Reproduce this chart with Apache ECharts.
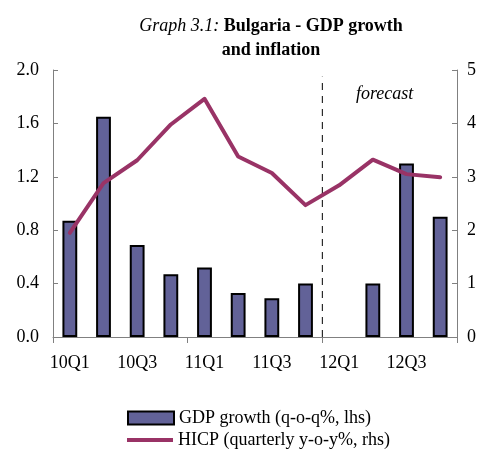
<!DOCTYPE html>
<html>
<head>
<meta charset="utf-8">
<script src="https://cdn.jsdelivr.net/npm/echarts@6/dist/echarts.min.js"></script>
<style>
  html, body { margin: 0; padding: 0; background: #fff; }
  #chart { width: 480px; height: 450px; }
</style>
</head>
<body>
<div id="chart"></div>
<script>
const quarters = ['10Q1', '10Q2', '10Q3', '10Q4', '11Q1', '11Q2', '11Q3', '11Q4', '12Q1', '12Q2', '12Q3', '12Q4']
const gdpGrowth = [0.87, 1.65, 0.69, 0.47, 0.52, 0.33, 0.29, 0.40, null, 0.40, 1.30, 0.90]
const hicp = [1.95, 2.88, 3.31, 3.98, 4.46, 3.38, 3.07, 2.47, 2.84, 3.32, 3.05, 2.99]
// forecast separator sits on the boundary between 11Q4 and 12Q1
const forecastLine = [[7.5, 0], [7.5, 1.95]]

const serif = '"Liberation Serif", "Times New Roman", serif'
const chart = echarts.init(document.getElementById('chart'))

const legendText = { fontFamily: serif, fontSize: 18, color: '#000' }

const option = {
  animation: false,
  textStyle: { fontFamily: serif },
  title: {
    left: 266,
    top: 9,
    textAlign: 'center',
    text: '{i|Graph 3.1:} {b|Bulgaria - GDP growth}\n{b|and inflation}',
    textStyle: {
      lineHeight: 24,
      rich: {
        i: { fontFamily: serif, fontStyle: 'italic', fontWeight: 'normal', fontSize: 18, color: '#000', lineHeight: 24 },
        b: { fontFamily: serif, fontWeight: 'bold', fontSize: 18, color: '#000', lineHeight: 24 }
      }
    }
  },
  legend: [{
    left: 122,
    top: 404,
    itemWidth: 46,
    itemHeight: 13,
    textStyle: legendText,
    data: [{ name: 'GDP growth (q-o-q%, lhs)', icon: 'rect' }]
  }, {
    left: 122,
    top: 426,
    itemWidth: 46,
    itemHeight: 13,
    textStyle: legendText,
    data: [{ name: 'HICP (quarterly y-o-y%, rhs)', icon: 'path://M0,0 L46,0 L46,4 L0,4 Z' }]
  }],
  grid: { left: 53, right: 23, top: 70, bottom: 113, outerBoundsMode: 'none' },
  xAxis: [{
    type: 'category',
    data: quarters,
    boundaryGap: true,
    axisLine: { lineStyle: { color: '#808080', width: 1 } },
    axisTick: { show: true, interval: 3, length: 6, lineStyle: { color: '#808080' } },
    axisLabel: { interval: 1, margin: 17, fontFamily: serif, fontSize: 18, color: '#000' }
  }, {
    type: 'value',
    min: -0.5,
    max: 11.5,
    show: false
  }],
  yAxis: [{
    type: 'value',
    min: 0,
    max: 2,
    interval: 0.4,
    splitLine: { show: false },
    axisLine: { show: true, onZero: false, lineStyle: { color: '#808080' } },
    axisTick: { show: true, inside: true, length: 5, lineStyle: { color: '#808080' } },
    axisLabel: { margin: 14, fontFamily: serif, fontSize: 18, color: '#000', formatter: v => v.toFixed(1) }
  }, {
    type: 'value',
    min: 0,
    max: 5,
    interval: 1,
    splitLine: { show: false },
    axisLine: { show: true, onZero: false, lineStyle: { color: '#808080' } },
    axisTick: { show: true, inside: true, length: 5, lineStyle: { color: '#808080' } },
    axisLabel: { margin: 10, fontFamily: serif, fontSize: 18, color: '#000' }
  }],
  graphic: [{
    type: 'text',
    left: 356,
    top: 85,
    style: { text: 'forecast', font: 'italic 18px ' + serif, fill: '#000' }
  }],
  series: [{
    name: 'GDP growth (q-o-q%, lhs)',
    type: 'bar',
    barWidth: '44%',
    data: gdpGrowth,
    itemStyle: { color: '#626298', borderColor: '#000', borderWidth: 2 }
  }, {
    name: 'HICP (quarterly y-o-y%, rhs)',
    type: 'line',
    yAxisIndex: 1,
    data: hicp,
    symbol: 'none',
    lineStyle: { color: '#993366', width: 4, cap: 'round', join: 'round' },
    itemStyle: { color: '#993366' },
    z: 3
  }, {
    name: 'forecast',
    type: 'line',
    xAxisIndex: 1,
    yAxisIndex: 0,
    data: forecastLine,
    symbol: 'none',
    silent: true,
    lineStyle: { color: '#000', width: 1, type: [7, 6] },
    z: 1
  }]
}

chart.setOption(option)
</script>
</body>
</html>
